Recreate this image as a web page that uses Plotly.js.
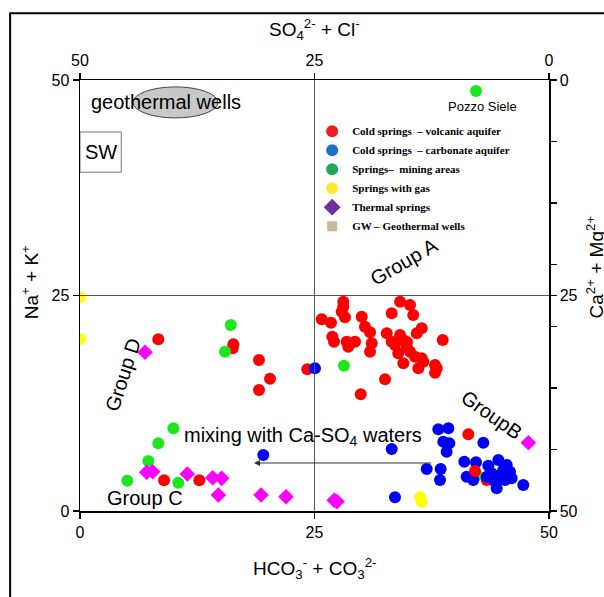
<!DOCTYPE html>
<html>
<head>
<meta charset="utf-8">
<script src="https://cdn.plot.ly/plotly-3.0.1.min.js"></script>
<style>html,body{margin:0;padding:0;background:#fff;}#chart{width:604px;height:597px;}</style>
</head>
<body>
<div id="chart"></div>
<script>
// Cold springs - volcanic aquifer (HCO3+CO3 , Na+K)
var redX = [28.07,28.07,27.90,28.25,25.77,26.76,30.03,30.38,30.92,26.90,27.08,28.43,29.32,28.60,31.10,30.92,34.12,35.18,33.23,35.53,32.70,34.12,36.43,35.90,33.23,34.47,34.83,33.93,35.18,35.71,36.43,36.60,34.47,36.07,37.85,38.03,37.85,38.67,32.52,29.93,24.23,33.58,34.86,8.35,16.35,16.28,19.08,20.26,19.08,8.96,12.72,41.40,43.36];
var redY = [24.28,23.70,23.12,22.47,22.24,21.84,22.54,21.38,20.73,20.22,19.64,19.64,19.64,19.06,19.45,18.48,24.28,23.90,22.94,22.74,20.61,20.42,21.19,20.61,19.64,19.84,19.06,18.29,18.48,17.90,17.71,17.32,17.13,16.55,16.94,16.55,16.04,19.84,15.28,13.54,16.44,19.26,19.61,19.92,19.34,18.87,17.52,15.35,14.04,3.56,3.56,8.90,3.60];
var redTopX = [42.11];
var redTopY = [4.64];
// Cold springs - carbonate aquifer
var blueX = [25.05,19.54,33.23,33.58,38.20,39.27,38.73,39.37,39.09,43.00,36.96,38.45,38.38,40.97,42.22,41.22,41.93,43.53,44.60,45.49,45.84,43.89,44.78,44.24,44.42,45.31,47.26,43.36,45.13,46.02];
var blueY = [16.55,6.50,7.19,1.59,9.48,9.59,8.04,7.85,6.88,7.92,4.87,4.87,3.60,5.72,5.65,3.98,3.60,5.26,5.92,5.34,4.56,4.37,4.18,3.40,2.63,3.60,3.02,3.98,4.76,3.79];
// Springs - mining areas
var greenX = [42.22,16.07,15.46,9.95,8.35,7.28,5.04,10.48,28.14,42.29];
var greenY = [48.72,21.58,18.48,9.59,7.85,5.80,3.52,3.28,16.86,4.18];
// Springs with gas
var yellowX = [0,0,36.25,36.43];
var yellowY = [24.8,19.95,1.59,1.08];
// Thermal springs
var magX = [6.93,7.11,7.75,11.44,14.15,15.10,14.75,19.30,21.96,27.40,27.10,47.80];
var magY = [18.41,4.49,4.56,4.29,3.86,3.79,1.86,1.86,1.66,1.09,1.25,7.92];

var legendNames = ['Cold springs  \u2013 volcanic aquifer','Cold springs  \u2013 carbonate aquifer','Springs\u2013  mining areas','Springs with gas','Thermal springs','GW \u2013 Geothermal wells'];
var legendColors = ['#f01e1e','#1f6fc6','#1fa85a','#ffe83c','#7030a0','#c4bc96'];
var legendSymbols = ['circle','circle','circle','circle','diamond','square'];
var legendSizes = [12,12,12,12,13,10];

var mainTicks = [0,25,50];
var mainTickText = ['0','25','50'];
var rightMinorTicks = [50/7,100/7,150/7,200/7,250/7,300/7];

var traces = [];
function pts(x,y,color,symbol,size){
  return {type:'scatter',mode:'markers',x:x,y:y,xaxis:'x',yaxis:'y',showlegend:false,hoverinfo:'skip',
    marker:{color:color,symbol:symbol,size:size,line:{width:0}}};
}
traces.push(pts(greenX.slice(9),greenY.slice(9),'#1ee61e','circle',12));
traces.push(pts(redX,redY,'#ff0000','circle',12));
traces.push(pts(blueX,blueY,'#0000f5','circle',12));
traces.push(pts(redTopX,redTopY,'#ff0000','circle',12));
traces.push(pts(greenX.slice(0,9),greenY.slice(0,9),'#1ee61e','circle',12));
traces.push(pts(yellowX,yellowY,'#ffff00','circle',12));
traces.push(pts(magX,magY,'#ff00ff','diamond',12));
for (var i=0;i<legendNames.length;i++){
  traces.push({type:'scatter',mode:'markers',x:[null],y:[null],name:legendNames[i],showlegend:true,
    marker:{color:legendColors[i],symbol:legendSymbols[i],size:legendSizes[i],line:{width:0}}});
}
traces.push({type:'scatter',mode:'markers',x:[null],y:[null],xaxis:'x2',yaxis:'y2',showlegend:false,hoverinfo:'skip'});

var tickFont = {family:'Liberation Sans, Arial, sans-serif',size:16,color:'#000'};
var axBase = {showline:true,linecolor:'#000',linewidth:1.5,ticks:'outside',ticklen:6,tickwidth:1.5,tickcolor:'#000',
  showgrid:false,zeroline:false,tickfont:tickFont,fixedrange:true,tickmode:'array',tickvals:mainTicks,ticktext:mainTickText};
function ax(extra){var o={};for(var k in axBase)o[k]=axBase[k];for(var k2 in extra)o[k2]=extra[k2];return o;}

var big = {family:'Liberation Sans, Arial, sans-serif',size:20,color:'#000'};
var ttl = {family:'Liberation Sans, Arial, sans-serif',size:19,color:'#000'};
var layout = {
  width:604,height:597,
  margin:{l:80,r:55,t:80,b:86,pad:0},
  paper_bgcolor:'#fff',plot_bgcolor:'#fff',
  xaxis:ax({range:[0,50]}),
  yaxis:ax({range:[0,50]}),
  xaxis2:ax({overlaying:'x',side:'top',range:[50,0]}),
  yaxis2:ax({overlaying:'y',side:'right',range:[50,0],
    minor:{tickmode:'array',tickvals:rightMinorTicks,ticks:'outside',ticklen:6,tickwidth:1.5,tickcolor:'#000',showgrid:false}}),
  legend:{x:0.495,y:0.915,xanchor:'left',yanchor:'top',bgcolor:'rgba(0,0,0,0)',tracegroupgap:0,
    font:{family:'Liberation Serif, Times New Roman, serif',size:11,color:'#000',weight:'bold'}},
  shapes:[
    {type:'line',xref:'x',yref:'y',x0:25,x1:25,y0:0,y1:50,line:{color:'#555',width:1}},
    {type:'line',xref:'x',yref:'y',x0:0,x1:50,y0:25,y1:25,line:{color:'#555',width:1}},
    {type:'circle',xref:'x',yref:'y',x0:5.65,x1:14.7,y0:45.6,y1:49.2,fillcolor:'#c8c8c8',line:{color:'#444',width:1},layer:'below'},
    {type:'rect',xref:'x',yref:'y',x0:0,x1:4.4,y0:39.3,y1:43.97,line:{color:'#777',width:1}},
    {type:'rect',xref:'paper',yref:'paper',x0:-0.149,x1:1.25,y0:-0.3,y1:1.155,line:{color:'#000',width:2}}
  ],
  annotations:[
    {xref:'paper',yref:'paper',x:0.499,y:1.153,text:'SO<sub>4</sub><sup>2-</sup> + Cl<sup>-</sup>',showarrow:false,font:ttl},
    {xref:'paper',yref:'paper',x:0.499,y:-0.17,text:'HCO<sub>3</sub><sup>-</sup> + CO<sub>3</sub><sup>2-</sup>',showarrow:false,font:ttl},
    {xref:'paper',yref:'paper',x:-0.137,y:0.53,text:'Na<sup>+</sup> + K<sup>+</sup>',textangle:-90,showarrow:false,font:ttl},
    {xref:'paper',yref:'paper',x:1.128,y:0.565,text:'Ca<sup>2+</sup> + Mg<sup>2+</sup>',textangle:-90,showarrow:false,font:ttl},
    {xref:'x',yref:'y',x:1.0,y:47.45,xanchor:'left',text:'geothermal wells',showarrow:false,font:big},
    {xref:'x',yref:'y',x:2.24,y:41.7,text:'SW',showarrow:false,font:big},
    {xref:'x',yref:'y',x:42.9,y:46.95,text:'Pozzo Siele',showarrow:false,font:{family:big.family,size:13,color:'#000'}},
    {xref:'x',yref:'y',x:34.5,y:28.9,text:'Group A',textangle:-30,showarrow:false,font:big},
    {xref:'x',yref:'y',x:4.55,y:15.8,text:'Group D',textangle:-72,showarrow:false,font:big},
    {xref:'x',yref:'y',x:43.9,y:11.1,text:'GroupB',textangle:35,showarrow:false,font:big},
    {xref:'x',yref:'y',x:6.9,y:1.55,text:'Group C',showarrow:false,font:big},
    {xref:'x',yref:'y',x:10.9,y:8.6,xanchor:'left',text:'mixing with Ca-SO<sub>4</sub> waters',showarrow:false,font:big},
    {xref:'x',yref:'y',axref:'x',ayref:'y',x:18.55,y:5.57,ax:37.6,ay:5.57,text:'',showarrow:true,arrowhead:2,arrowsize:1.2,arrowwidth:1,arrowcolor:'#333'}
  ]
};
Plotly.newPlot('chart',traces,layout,{staticPlot:true,displayModeBar:false});
</script>
</body>
</html>
